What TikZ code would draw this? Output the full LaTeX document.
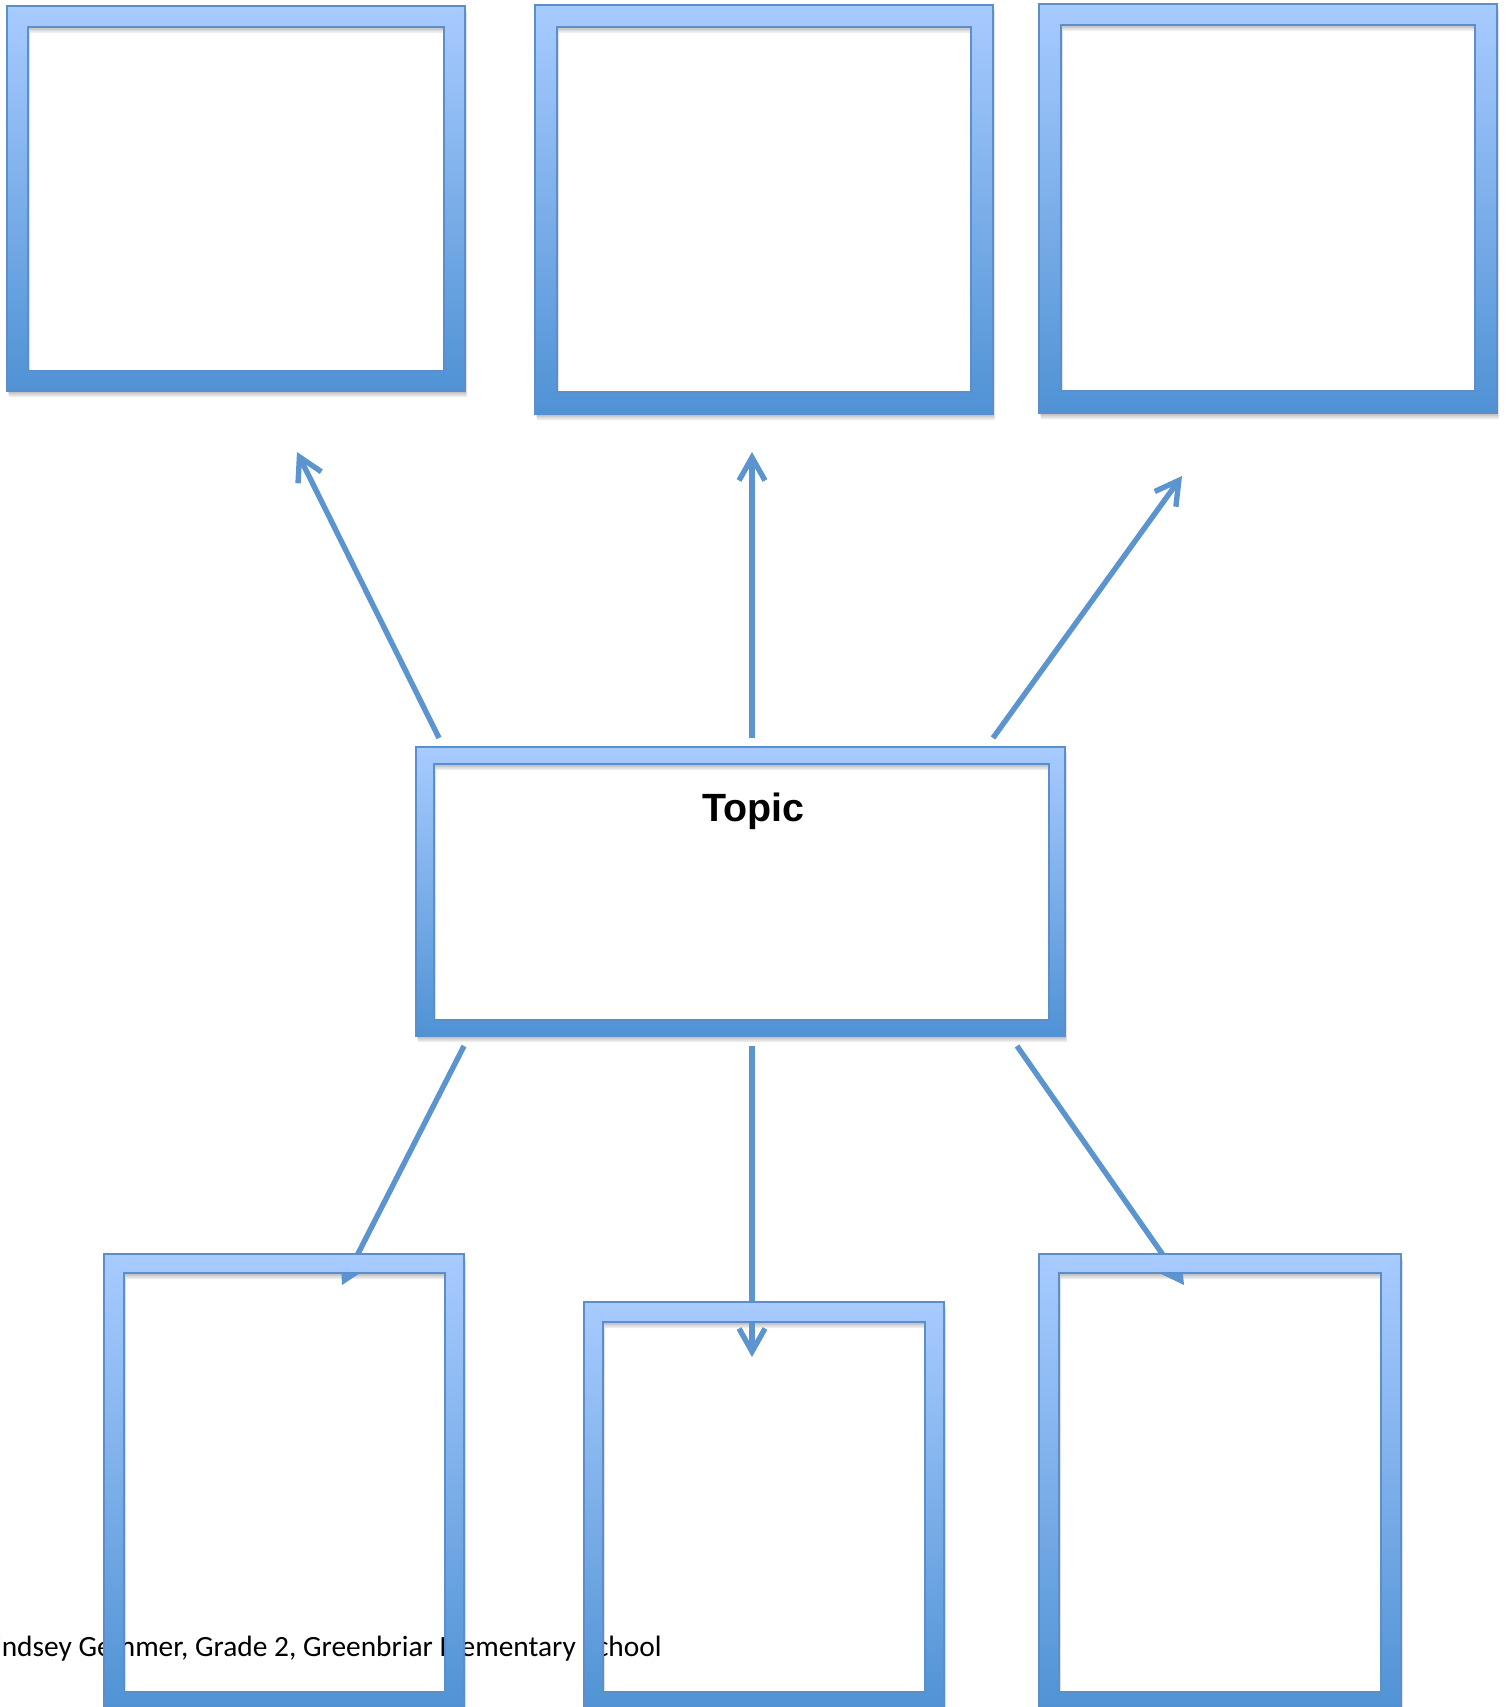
\documentclass[tikz,border=0pt]{standalone}
\usepackage{fontspec}
\setmainfont{Liberation Sans}
\newfontfamily\footfont{Carlito}
\usetikzlibrary{arrows.meta,calc}
\definecolor{frametop}{HTML}{A8CBFF}
\definecolor{framebot}{HTML}{4F92D4}
\definecolor{frameline}{HTML}{5A8FCB}
\definecolor{arrowblue}{HTML}{5B94CE}
\tikzset{
  ring/.style={even odd rule, top color=frametop, bottom color=framebot, draw=frameline, line width=0.7pt},
  ringshadow/.style={even odd rule, fill=black, opacity=0.07},
  link/.style={draw=arrowblue, line width=2.7pt, -{Straight Barb[length=11.5pt,width=13pt]}},
}
\newcommand\ringframe[9]{%
  \coordinate (#1-onw) at (#2,#3);
  \coordinate (#1-ose) at (#4,#5);
  \coordinate (#1-inw) at (#6,#7);
  \coordinate (#1-ise) at (#8,#9);
}
\begin{document}
\begin{tikzpicture}[x=0.5pt,y=-0.5pt]
\useasboundingbox (0,0) rectangle (1510,1707);
\clip (0,0) rectangle (1510,1707);
% frame geometry
\ringframe{b1}{7}{6}{465}{391}{28}{27}{444}{371}
\ringframe{b2}{535}{5}{993}{414}{557}{27}{971}{392}
\ringframe{b3}{1039}{4}{1497}{413}{1061}{25}{1475}{391}
\ringframe{tp}{416}{747}{1065}{1036}{434}{764}{1049}{1020}
\ringframe{b4}{104}{1254}{464}{1713}{124}{1273}{445}{1692}
\ringframe{b5}{584}{1302}{944}{1713}{603}{1322}{925}{1692}
\ringframe{b6}{1039}{1254}{1401}{1713}{1059}{1273}{1381}{1692}
% shadows
\foreach \n in {b1,b2,b3,tp,b4,b5,b6}{
  \foreach \d in {1,2,3,4}{
    \path[ringshadow] ($(\n-onw)+(0.5*\d,1.5*\d)$) rectangle ($(\n-ose)+(0.5*\d,1.5*\d)$)
                      ($(\n-inw)+(0.5*\d,1.5*\d)$) rectangle ($(\n-ise)+(0.5*\d,1.5*\d)$);
  }
}
% footer text (behind the frames)
\node[anchor=base east, inner sep=0pt, font=\footfont\fontsize{14.7}{18}\selectfont] (footer) at (662,1656)
  {Lindsey Gemmer, Grade 2, Greenbriar Elementary School};
% connector end points
\coordinate (a1s) at (439,738);  \coordinate (a1e) at (297,452);
\coordinate (a2s) at (752,738);  \coordinate (a2e) at (752,452);
\coordinate (a3s) at (993,738);  \coordinate (a3e) at (1182,476);
\coordinate (a4s) at (464,1046); \coordinate (a4e) at (342,1285);
\coordinate (a5s) at (752,1046); \coordinate (a5e) at (752,1357);
\coordinate (a6s) at (1017,1046);\coordinate (a6e) at (1184,1285);
\foreach \i in {1,...,6}{
  \draw[link] (a\i s) -- (a\i e);
}
% frames
\foreach \n in {b1,b2,b3,tp,b4,b5,b6}{
  \shadedraw[ring] (\n-onw) rectangle (\n-ose) (\n-inw) rectangle (\n-ise);
}
\node[anchor=base, inner sep=0pt, font=\bfseries\fontsize{19.7}{24}\selectfont] (topic) at (753.5,821.7) {Topic};
\end{tikzpicture}
\end{document}
